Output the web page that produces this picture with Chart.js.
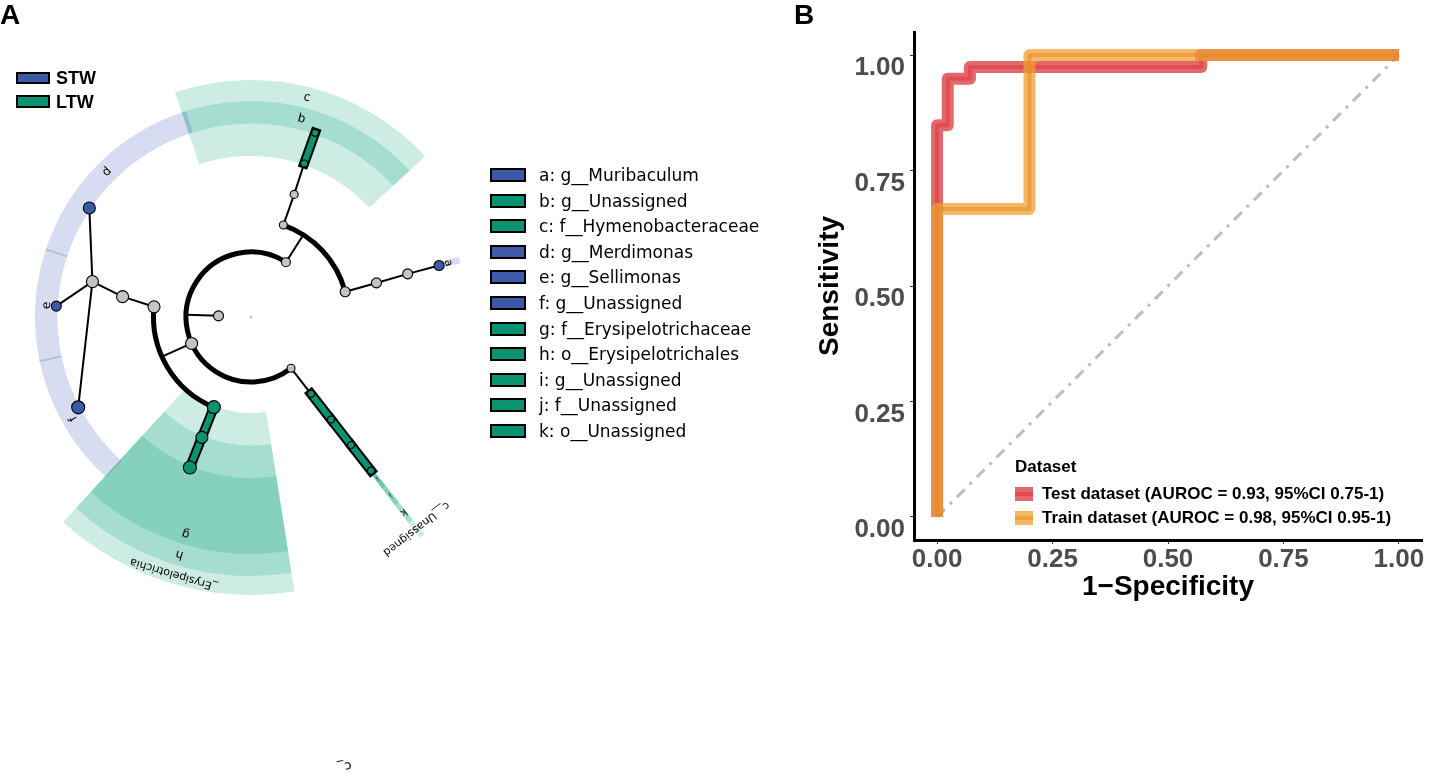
<!DOCTYPE html>
<html><head><meta charset="utf-8">
<script src="https://cdn.jsdelivr.net/npm/chart.js@4.4.1/dist/chart.umd.min.js"></script>
<style>
html,body{margin:0;padding:0;background:#fff;}
#wrap{position:relative;width:1429px;height:782px;overflow:hidden;background:#fff;}
canvas{position:absolute;top:0;}
.t{position:absolute;white-space:nowrap;}
.pl{font-family:'Liberation Sans',Arial,sans-serif;font-weight:bold;font-size:28px;line-height:30px;height:30px;color:#000;}
.box{position:absolute;box-sizing:border-box;border:2.5px solid #000;}
.lg{font-family:'DejaVu Sans',sans-serif;font-size:17px;line-height:20px;height:20px;color:#000;}
.grp{font-family:'Liberation Sans',Arial,sans-serif;font-weight:bold;font-size:18px;line-height:20px;height:20px;color:#000;}
.rl{font-family:'Liberation Sans',Arial,sans-serif;font-weight:bold;font-size:17px;line-height:20px;height:20px;color:#000;}
</style></head><body><div id="wrap">
<canvas id="ca" width="800" height="782" style="left:0"></canvas>
<canvas id="cb" width="629" height="782" style="left:800px"></canvas>
</div>
<script>
// ================= DATA =================
// Panel A: LEfSe cladogram
const groups = ['STW', 'LTW'];
const biomarkerKeys  = ['a','b','c','d','e','f','g','h','i','j','k'];
const biomarkerNames = ['g__Muribaculum','g__Unassigned','f__Hymenobacteraceae','g__Merdimonas','g__Sellimonas','g__Unassigned','f__Erysipelotrichaceae','o__Erysipelotrichales','g__Unassigned','f__Unassigned','o__Unassigned'];
const biomarkerGroup = ['STW','LTW','LTW','STW','STW','STW','LTW','LTW','LTW','LTW','LTW'];

// tree nodes (taxonomic level, angular position in degrees, enriched group)
const nodeIds    = ['root','k1','p1','p2','p3','c1','c2','c3','cE','cU','o1','o2','o3','oH','oK','fC','f2','f3','fG','fJ','gB','gA','gD','gE','gF','gI'];
const nodeParent = [null,'root','k1','k1','k1','p1','p1','p2','p2','p3','c1','c2','c3','cE','cU','o1','o2','o3','oH','oK','fC','f2','f3','f3','f3','fJ'];
const nodeLevel  = [0,1,2,2,2,3,3,3,3,3,4,4,4,4,4,5,5,5,5,5,6,6,6,6,6,6];
const nodeAngle  = [0,178,57.5,204,308,70.6,15,174,247.6,308,70.6,15.2,171,247.8,308,70.9,15.4,167.4,247.9,308,70.8,15.3,146,176.8,207.6,308];
const nodeGroup  = [null,null,null,null,null,null,null,null,'LTW','LTW',null,null,null,'LTW','LTW','LTW',null,null,'LTW','LTW','LTW','STW','STW','STW','STW','LTW'];
const nodeAbund  = [1.5,5,4.5,6,4,4,5,6,6.5,3.5,4,5,6,6,3.5,3.5,5,6,6.5,3.5,3.5,5,6,5,6.5,3.5];

// highlighted clades (label, node, angular span)
const hlLabel = ['a','b','c','d','e','f','g','h','i','j','k','_Erysipelotrichia','c__Unassigned'];
const hlNode  = ['gA','gB','fC','gD','gE','gF','fG','oH','gI','fJ','oK','cE','cU'];
const hlStart = [14.4,42.7,42.7,107.5,161.5,191.5,227.5,227.5,307.4,307.4,307.4,227.5,307.4];
const hlEnd   = [16.2,108.7,108.7,162,192,228,279,279,308.6,308.6,308.6,279,308.6];
const strayLabel = {text:'c_', r:459, angle:281.8};

// Panel B: ROC curves
const testFpr  = [0, 0, 0.023, 0.023, 0.071, 0.071, 0.572, 0.572, 1];
const testTpr  = [0, 0.848, 0.848, 0.949, 0.949, 0.974, 0.974, 1, 1];
const trainFpr = [0, 0, 0.2, 0.2, 1];
const trainTpr = [0, 0.667, 0.667, 1, 1];
const diagFpr  = [0, 1];
const diagTpr  = [0, 1];
const xTicks = [0, 0.25, 0.5, 0.75, 1];
const yTicks = [0, 0.25, 0.5, 0.75, 1];
const xTickLabels = ['0.00','0.25','0.50','0.75','1.00'];
const yTickLabels = ['0.00','0.25','0.50','0.75','1.00'];
const rocLegendTitle = 'Dataset';
const rocSeriesNames = ['Test dataset (AUROC = 0.93, 95%CI 0.75-1)', 'Train dataset (AUROC = 0.98, 95%CI 0.95-1)'];

// ================= STYLE =================
const LEVEL_STEP = 32.5;
const ringOuter = {3:278, 4:259, 5:237, 6:216};
const ringLabel = {3:268.5, 4:248, 5:226.5, 6:204.5};
const labelFont = {a:11,b:12,c:12,d:12,e:12,f:12,g:12,h:12,i:6,j:6,k:10,'_Erysipelotrichia':11,'c__Unassigned':11};
const groupColor = {STW:'#3c5aa8', LTW:'#0a9271'};
const groupShade = {STW:'rgba(55,80,180,0.2)', LTW:'rgba(5,160,120,0.2)'};
const grayNode = '#c3c3cb';
const arcParents = ['k1','p1','p2'];
const SANS = "'Liberation Sans', Arial, sans-serif";
const DEJAVU = "'DejaVu Sans', sans-serif";

// ================= PANEL A =================
const idx = id => nodeIds.indexOf(id);
const rad = d => d * Math.PI / 180;
function pol(r, deg) { return {x: r * Math.cos(rad(deg)), y: r * Math.sin(rad(deg))}; }
function nodePt(id) { const i = idx(id); return pol(nodeLevel[i] * LEVEL_STEP, nodeAngle[i]); }

const datasetsA = [];
// nodes
datasetsA.push({
  label: 'nodes', order: 0, showLine: false,
  data: nodeIds.map(id => nodePt(id)),
  pointRadius: nodeAbund,
  pointHoverRadius: nodeAbund,
  pointBackgroundColor: nodeGroup.map(g => g ? groupColor[g] : grayNode),
  pointBorderColor: '#000',
  pointBorderWidth: nodeIds.map(id => id === 'root' ? 0 : 1.1)
});
// edges
nodeIds.forEach((id, i) => {
  const p = nodeParent[i];
  if (!p || p === 'root') return;
  if (arcParents.includes(p)) return; // child sits on parent's arc
  const pg = nodeGroup[idx(p)], cg = nodeGroup[i];
  if (pg && cg && pg === cg) {
    datasetsA.push({label:'barB', order:2, showLine:true, data:[nodePt(p), nodePt(id)], borderColor:'#000', borderWidth:10, borderCapStyle:'square', pointRadius:0});
    datasetsA.push({label:'barC', order:1, showLine:true, data:[nodePt(p), nodePt(id)], borderColor:groupColor[cg], borderWidth:6, borderCapStyle:'square', pointRadius:0});
  } else {
    datasetsA.push({label:'edge', order:3, showLine:true, data:[nodePt(p), nodePt(id)], borderColor:'#000', borderWidth:2, pointRadius:0});
  }
});
// radial connectors from arc parents to their children's arc
arcParents.forEach(p => {
  const i = idx(p);
  datasetsA.push({label:'edge', order:3, showLine:true,
    data:[nodePt(p), pol((nodeLevel[i] + 1) * LEVEL_STEP, nodeAngle[i])],
    borderColor:'#000', borderWidth:2, pointRadius:0});
});

const cladoPlugin = {
  id: 'clado',
  beforeDatasetsDraw(chart) {
    const {ctx, scales: {x, y}} = chart;
    const cx = x.getPixelForValue(0), cy = y.getPixelForValue(0);
    const k = x.getPixelForValue(1) - cx;
    ctx.save();
    // clade shading
    hlNode.forEach((n, j) => {
      const i = idx(n), lv = nodeLevel[i];
      const r1 = (lv * LEVEL_STEP - 1.5) * k, r2 = ringOuter[lv] * k;
      ctx.beginPath();
      ctx.arc(cx, cy, r2, -rad(hlStart[j]), -rad(hlEnd[j]), true);
      ctx.arc(cx, cy, r1, -rad(hlEnd[j]), -rad(hlStart[j]), false);
      ctx.closePath();
      ctx.fillStyle = groupShade[nodeGroup[i]];
      ctx.fill();
    });
    // thick arcs joining children
    arcParents.forEach(p => {
      const kids = nodeIds.filter((id, i) => nodeParent[i] === p);
      const angs = kids.map(id => nodeAngle[idx(id)]);
      const lv = nodeLevel[idx(p)] + 1;
      ctx.beginPath();
      ctx.arc(cx, cy, lv * LEVEL_STEP * k, -rad(Math.min(...angs)), -rad(Math.max(...angs)), true);
      ctx.lineWidth = 5; ctx.strokeStyle = '#000'; ctx.lineCap = 'butt';
      ctx.stroke();
    });
    ctx.restore();
  },
  afterDatasetsDraw(chart) {
    const {ctx, scales: {x, y}} = chart;
    const cx = x.getPixelForValue(0), cy = y.getPixelForValue(0);
    const k = x.getPixelForValue(1) - cx;
    ctx.save();
    ctx.fillStyle = '#000';
    ctx.textAlign = 'center';
    ctx.textBaseline = 'middle';
    const put = (txt, r, ang, size) => {
      ctx.save();
      ctx.translate(cx + r * k * Math.cos(rad(ang)), cy - r * k * Math.sin(rad(ang)));
      ctx.rotate(rad(90 - ang));
      ctx.font = size + 'px ' + DEJAVU;
      ctx.fillText(txt, 0, 0);
      ctx.restore();
    };
    hlLabel.forEach((t, j) => {
      const lv = nodeLevel[idx(hlNode[j])];
      put(t, ringLabel[lv], (hlStart[j] + hlEnd[j]) / 2, labelFont[t]);
    });
    put(strayLabel.text, strayLabel.r, strayLabel.angle, 13);
    ctx.restore();
  }
};

new Chart(document.getElementById('ca'), {
  type: 'scatter',
  data: {datasets: datasetsA},
  options: {
    responsive: false, animation: false, devicePixelRatio: 1, events: [],
    layout: {padding: 0, autoPadding: false},
    plugins: {legend: {display: false}, tooltip: {enabled: false}},
    scales: {
      x: {type: 'linear', display: false, min: -251, max: 549},
      y: {type: 'linear', display: false, min: -465, max: 317}
    }
  },
  plugins: [cladoPlugin]
});

// ================= PANEL B =================
const toPts = (xs, ys) => xs.map((v, i) => ({x: v, y: ys[i]}));
const line = (lbl, xs, ys, color, w, order, extra) => Object.assign({
  label: lbl, order, showLine: true, data: toPts(xs, ys), borderColor: color, borderWidth: w,
  pointRadius: 0, borderJoinStyle: 'round', borderCapStyle: 'butt', fill: false
}, extra || {});

new Chart(document.getElementById('cb'), {
  type: 'scatter',
  data: {datasets: [
    line('diag', diagFpr, diagTpr, '#bdbdbd', 3, 5, {borderDash: [11, 7, 3, 7]}),
    line(rocSeriesNames[0], testFpr, testTpr, 'rgba(215,40,45,0.7)', 12, 4),
    line(rocSeriesNames[0] + ' core', testFpr, testTpr, 'rgba(215,40,45,0.4)', 4, 3),
    line(rocSeriesNames[1], trainFpr, trainTpr, 'rgba(238,160,50,0.75)', 12, 2),
    line(rocSeriesNames[1] + ' core', trainFpr, trainTpr, 'rgba(232,140,40,0.6)', 4, 1)
  ]},
  options: {
    responsive: false, animation: false, devicePixelRatio: 1, events: [],
    layout: {padding: {left: 16, top: 32, right: 7, bottom: 181}, autoPadding: false},
    plugins: {legend: {display: false}, tooltip: {enabled: false}},
    scales: {
      x: {
        type: 'linear', min: -0.05, max: 1.05,
        afterBuildTicks: s => { s.ticks = xTicks.map(v => ({value: v})); },
        afterFit: s => { s.height = 61; },
        ticks: {callback: (v, i) => xTickLabels[i], font: {family: SANS, size: 26, weight: 'bold'}, color: '#4d4d4d', padding: 0, maxRotation: 0, autoSkip: false},
        grid: {drawOnChartArea: false, drawTicks: true, tickLength: 4, color: '#333', lineWidth: 1},
        border: {display: true, color: '#000', width: 3},
        title: {display: true, text: '1\u2212Specificity', color: '#000', font: {family: SANS, size: 28, weight: 'bold', lineHeight: 1}, padding: 0}
      },
      y: {
        type: 'linear', min: -0.05, max: 1.05,
        afterBuildTicks: s => { s.ticks = yTicks.map(v => ({value: v})); },
        afterFit: s => { s.width = 98; },
        ticks: {callback: (v, i) => yTickLabels[i], font: {family: SANS, size: 26, weight: 'bold'}, color: '#4d4d4d', padding: 5, labelOffset: 13, autoSkip: false},
        grid: {drawOnChartArea: false, drawTicks: true, tickLength: 4, color: '#333', lineWidth: 1},
        border: {display: true, color: '#000', width: 3},
        title: {display: true, text: 'Sensitivity', color: '#000', font: {family: SANS, size: 28, weight: 'bold', lineHeight: 1}, padding: 0}
      }
    }
  }
});

// ================= HTML legends / panel letters =================
const wrap = document.getElementById('wrap');
function addText(txt, cls, left, cy, h) {
  const d = document.createElement('div');
  d.className = 't ' + cls; d.textContent = txt;
  d.style.left = left + 'px'; d.style.top = (cy - h / 2) + 'px';
  wrap.appendChild(d); return d;
}
function addBox(left, top, w, h, bg, border) {
  const d = document.createElement('div');
  d.className = 'box';
  Object.assign(d.style, {left: left + 'px', top: top + 'px', width: w + 'px', height: h + 'px', background: bg});
  if (border === false) d.style.border = 'none';
  wrap.appendChild(d); return d;
}
addText('A', 'pl', 0, 15, 30);
addText('B', 'pl', 794, 15, 30);
// group legend
groups.forEach((g, i) => {
  const cy = 78 + i * 23.7;
  addBox(16, cy - 6.3, 34, 12.8, groupColor[g]);
  addText(g, 'grp', 56, cy, 20);
});
// biomarker legend
biomarkerKeys.forEach((k, i) => {
  const cy = 175.3 + i * 25.54;
  addBox(490, cy - 7, 36, 14, groupColor[biomarkerGroup[i]]);
  addText(k + ': ' + biomarkerNames[i], 'lg', 539, cy, 20);
});
// ROC legend
addText(rocLegendTitle, 'rl', 1015, 467, 20);
const keyOuter = ['rgba(215,40,45,0.7)', 'rgba(238,160,50,0.75)'];
const keyInner = ['rgba(215,40,45,0.45)', 'rgba(232,140,40,0.6)'];
rocSeriesNames.forEach((n, i) => {
  const cy = 493.5 + i * 24.8;
  const b = addBox(1015, cy - 7, 18, 14, keyOuter[i], false);
  const s = document.createElement('div');
  Object.assign(s.style, {position: 'absolute', left: '0', top: '5px', width: '18px', height: '4px', background: keyInner[i]});
  b.appendChild(s);
  addText(n, 'rl', 1042, cy, 20);
});
</script>
</body></html>
